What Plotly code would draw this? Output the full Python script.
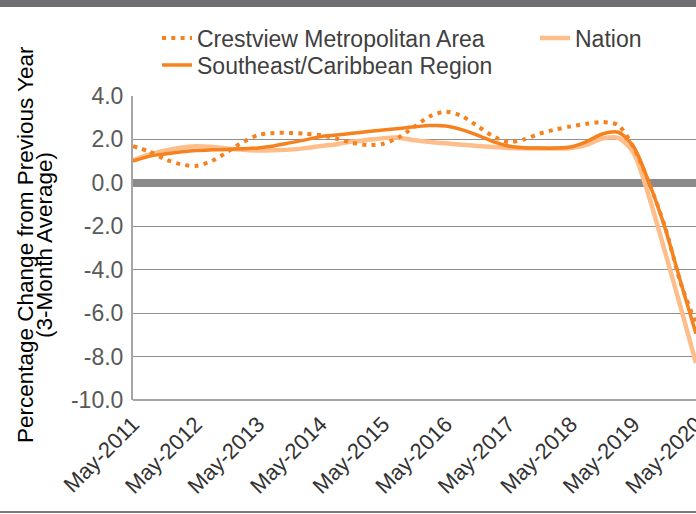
import pandas as pd
import plotly.graph_objects as go

# Quarterly observation dates, May-2011 .. May-2020
dates = pd.date_range("2011-05-01", "2020-05-01", freq="3MS")

crestview = [1.69, 1.45, 1.10, 0.86, 0.78, 1.00, 1.42, 1.88, 2.20, 2.30, 2.30, 2.26,
             2.20, 2.03, 1.84, 1.74, 1.80, 2.10, 2.60, 3.08, 3.28, 3.08, 2.62, 2.15,
             1.88, 2.00, 2.27, 2.46, 2.60, 2.72, 2.80, 2.66, 1.65, 0.00, -2.00, -4.60, -6.50]
southeast = [1.00, 1.22, 1.33, 1.42, 1.49, 1.52, 1.54, 1.57, 1.61, 1.70, 1.84, 1.98,
             2.13, 2.20, 2.28, 2.36, 2.43, 2.50, 2.58, 2.64, 2.62, 2.45, 2.20, 1.90,
             1.70, 1.62, 1.60, 1.60, 1.65, 1.90, 2.25, 2.33, 1.68, 0.00, -2.05, -4.55, -6.95]
nation = [1.04, 1.30, 1.48, 1.62, 1.69, 1.66, 1.58, 1.52, 1.49, 1.50, 1.53, 1.60,
          1.70, 1.78, 1.90, 1.98, 2.06, 2.08, 1.96, 1.88, 1.82, 1.76, 1.70, 1.65,
          1.61, 1.59, 1.58, 1.58, 1.60, 1.75, 2.04, 2.07, 1.40, -0.65, -3.15, -5.72, -8.30]

series_names = ["Crestview Metropolitan Area", "Nation", "Southeast/Caribbean Region"]
y_tickvals = [-10, -8, -6, -4, -2, 0, 2, 4]
y_ticktext = ["-10.0", "-8.0", "-6.0", "-4.0", "-2.0", "0.0", "2.0", "4.0"]
x_tickvals = ["2011-05-01", "2012-05-01", "2013-05-01", "2014-05-01", "2015-05-01",
              "2016-05-01", "2017-05-01", "2018-05-01", "2019-05-01", "2020-05-01"]
y_title_lines = ["Percentage Change from Previous Year", "(3-Month Average)"]

ORANGE = "#F5821F"
LIGHT = "#FDBE8C"
FONT = "Liberation Sans"

W, H = 696, 514
ML, MR, MT, MB = 133, 0, 96, 114
PW, PH = W - ML - MR, H - MT - MB

def px_x(x):
    return (x - ML) / PW

def px_y(y):
    return (H - MB - y) / PH

fig = go.Figure()
fig.add_trace(go.Scatter(x=dates, y=nation, name=series_names[1], mode="lines",
                         line=dict(color=LIGHT, width=4.5, shape="spline", smoothing=0.8),
                         legend="legend2"))
fig.add_trace(go.Scatter(x=dates, y=southeast, name=series_names[2], mode="lines",
                         line=dict(color=ORANGE, width=3.5, shape="spline", smoothing=0.8),
                         legend="legend3"))
fig.add_trace(go.Scatter(x=dates, y=crestview, name=series_names[0], mode="lines",
                         line=dict(color=ORANGE, width=4, dash="4px,5.3px", shape="spline", smoothing=0.8),
                         legend="legend"))

leg_common = dict(orientation="v", bgcolor="rgba(0,0,0,0)", borderwidth=0,
                  font=dict(family=FONT, size=23, color="#404040"),
                  xanchor="left", yanchor="middle")
fig.update_layout(
    width=W, height=H,
    margin=dict(l=ML, r=MR, t=MT, b=MB, autoexpand=False),
    paper_bgcolor="white", plot_bgcolor="white",
    showlegend=True,
    legend=dict(x=px_x(157), y=px_y(38), **leg_common),
    legend2=dict(x=px_x(535), y=px_y(38), **leg_common),
    legend3=dict(x=px_x(157), y=px_y(65), **leg_common),
    xaxis=dict(type="date", range=["2011-05-01", "2020-05-01"], automargin=False,
               tickvals=x_tickvals, tickformat="%b-%Y", tickangle=-45,
               tickfont=dict(family=FONT, size=22, color="#333333"),
               ticklabeloverflow="allow", ticklabelstandoff=6,
               showgrid=False, zeroline=False, showline=False, ticks=""),
    yaxis=dict(range=[-10, 4], tickvals=y_tickvals, ticktext=y_ticktext, automargin=False,
               tickfont=dict(family=FONT, size=23, color="#595959"),
               showgrid=True, gridcolor="#8f8f8f", gridwidth=1.3,
               zeroline=True, zerolinecolor="#8a8a8a", zerolinewidth=8,
               showline=True, linecolor="#a6a6a6", linewidth=2,
               ticks="", ticklabelstandoff=3),
    shapes=[
        dict(type="rect", xref="paper", yref="paper", x0=px_x(0), x1=px_x(W), y0=px_y(7), y1=px_y(0),
             fillcolor="#6f6f73", line=dict(width=0), layer="above"),
        dict(type="line", xref="paper", yref="paper", x0=px_x(0), x1=px_x(W), y0=px_y(512), y1=px_y(512),
             line=dict(color="#7a7a7a", width=2), layer="above"),
        dict(type="line", xref="paper", yref="paper", x0=0, x1=1, y0=0, y1=0,
             line=dict(color="#a6a6a6", width=2), layer="below"),
    ],
    annotations=[
        dict(text=y_title_lines[0], xref="paper", yref="paper", x=px_x(25), y=px_y(245),
             textangle=-90, showarrow=False, xanchor="center", yanchor="middle",
             font=dict(family=FONT, size=22.5, color="#000000")),
        dict(text=y_title_lines[1], xref="paper", yref="paper", x=px_x(44), y=px_y(245),
             textangle=-90, showarrow=False, xanchor="center", yanchor="middle",
             font=dict(family=FONT, size=22.5, color="#000000")),
    ],
)

fig.write_html("out.html", config={"displayModeBar": False},
               post_script="document.body.style.margin='0';")
